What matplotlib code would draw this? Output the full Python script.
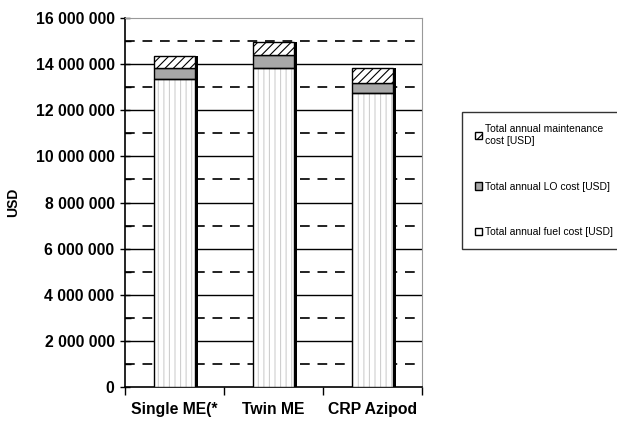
import matplotlib
matplotlib.use("Agg")
import matplotlib.pyplot as plt
from matplotlib.patches import Patch
from matplotlib.ticker import FuncFormatter, MultipleLocator

categories = ["Single ME(*", "Twin ME", "CRP Azipod"]
fuel_cost = [13350000, 13820000, 12730000]
lo_cost = [470000, 580000, 470000]
maint_cost = [550000, 550000, 620000]

labels = ["Total annual maintenance\ncost [USD]",
          "Total annual LO cost [USD]",
          "Total annual fuel cost [USD]"]

plt.rcParams["font.family"] = ["Liberation Sans", "DejaVu Sans"]
plt.rcParams["hatch.linewidth"] = 0.8

fig = plt.figure(figsize=(6.17, 4.32), dpi=100)
ax = fig.add_axes([125 / 617, 1 - 387 / 432, 297 / 617, 369 / 432])

x = list(range(len(categories)))
w = 0.41
totals = [f + l + m for f, l, m in zip(fuel_cost, lo_cost, maint_cost)]
lo_bottom = fuel_cost
m_bottom = [f + l for f, l in zip(fuel_cost, lo_cost)]

# shadow on the right of each bar
ax.bar([i + 0.03 for i in x], totals, w, color="black", zorder=2)
# fuel: white with light vertical lines
ax.bar(x, fuel_cost, w, facecolor="white", edgecolor="#cfcfcf",
       hatch="|||", linewidth=0, zorder=3)
ax.bar(x, fuel_cost, w, fill=False, edgecolor="black", linewidth=1.0, zorder=4)
# LO: grey
ax.bar(x, lo_cost, w, bottom=lo_bottom, facecolor="#a8a8a8",
       edgecolor="black", linewidth=1.0, zorder=3)
# maintenance: diagonal hatch
ax.bar(x, maint_cost, w, bottom=m_bottom, facecolor="white",
       edgecolor="black", hatch="////", linewidth=1.0, zorder=3)

ax.set_xlim(-0.5, 2.5)
ax.set_ylim(0, 16000000)

# grid: solid on even millions, dashed on odd ones
for yv in range(2000000, 16000000, 2000000):
    ax.axhline(yv, color="black", lw=1.0, zorder=1)
for yv in range(1000000, 16000000, 2000000):
    ax.axhline(yv, color="#222222", lw=1.4, ls=(0, (5, 4)), zorder=1)

ax.yaxis.set_major_locator(MultipleLocator(2000000))
ax.yaxis.set_minor_locator(MultipleLocator(1000000))
ax.yaxis.set_major_formatter(FuncFormatter(lambda v, p: f"{int(v):,}".replace(",", " ")))
ax.tick_params(axis="y", which="major", direction="inout", length=7, width=1, pad=4)
ax.tick_params(axis="y", which="minor", direction="in", length=4, width=1)

ax.set_xticks(x)
ax.set_xticklabels(categories)
ax.set_xticks([-0.5, 0.5, 1.5, 2.5], minor=True)
ax.tick_params(axis="x", which="major", length=0, pad=11)
ax.tick_params(axis="x", which="minor", direction="out", length=6, width=1)

for lab in ax.get_xticklabels() + ax.get_yticklabels():
    lab.set_fontweight("bold")
    lab.set_fontsize(11.3)

ax.set_ylabel("USD", fontsize=10, fontweight="bold")
ax.yaxis.set_label_coords(-0.354, 0.5)

for s in ["top", "right"]:
    ax.spines[s].set_color("#999999")
for s in ["left", "bottom"]:
    ax.spines[s].set_color("black")
    ax.spines[s].set_linewidth(1.2)

handles = [Patch(facecolor="white", edgecolor="black", hatch="////"),
           Patch(facecolor="#a8a8a8", edgecolor="black"),
           Patch(facecolor="white", edgecolor="black")]
leg = fig.legend(handles, labels, loc="upper left",
                 bbox_to_anchor=(462 / 617, 1 - 112 / 432),
                 prop={"size": 7.5}, frameon=True,
                 fancybox=False, edgecolor="black", handlelength=0.7,
                 handleheight=0.7, handletextpad=0.3, labelspacing=3.4,
                 borderpad=1.2, borderaxespad=0)
leg.get_frame().set_linewidth(1.0)

fig.savefig("out.png", dpi=100)
